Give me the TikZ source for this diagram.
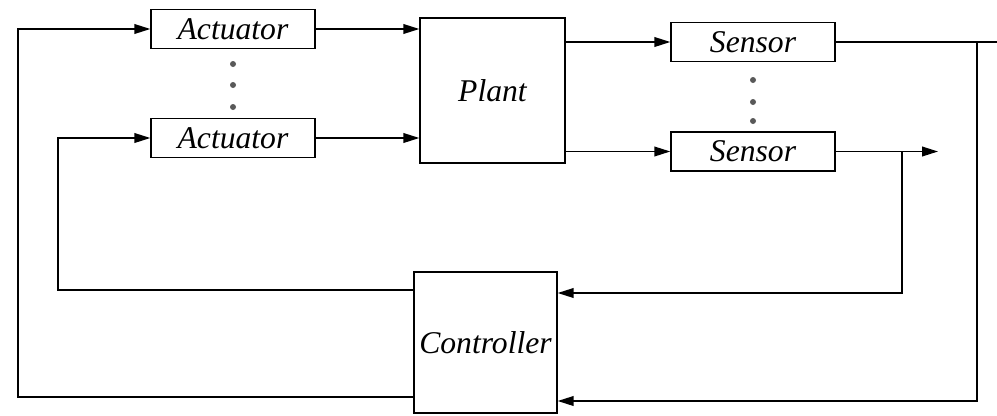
\documentclass[tikz,border=0pt]{standalone}
\usepackage{fontspec}
\setmainfont{Liberation Serif}
\usetikzlibrary{arrows.meta,positioning,calc}

\begin{document}
\begin{tikzpicture}[
    block/.style={draw, line width=0.8pt, inner sep=2pt, font=\fontsize{18}{21}\selectfont\itshape},
    smallblock/.style={block, minimum width=3.28cm, minimum height=0.78cm},
    sig/.style={line width=0.8pt, -{Triangle[length=9pt,width=5.5pt]}},
    wire/.style={line width=0.8pt}]
    \useasboundingbox (0,0) rectangle (19.94,8.3);

    % Actuators
    \node[smallblock] (act1) at (4.66,7.72) {Actuator};
    \node[smallblock] (act2) at (4.66,5.54) {Actuator};
    \foreach \y in {7.02,6.60,6.16}
      \fill[black!65] (4.66,\y) circle (0.06);

    % Plant
    \node[block, minimum width=2.9cm, minimum height=2.9cm] (plant) at (9.85,6.49) {Plant};

    % Sensors
    \node[smallblock] (sen1) at (15.06,7.46) {Sensor};
    \node[smallblock] (sen2) at (15.06,5.27) {Sensor};
    \foreach \y in {6.70,6.26,5.88}
      \fill[black!65] (15.06,\y) circle (0.06);

    % Controller
    \node[block, minimum width=2.86cm, minimum height=2.82cm] (ctrl) at (9.71,1.45) {Controller};

    % free ends and branch points
    \coordinate (out1) at (19.94,7.46);
    \coordinate (out2) at (18.76,5.27);
    \coordinate (br1) at (19.54,7.46);
    \coordinate (br2) at (18.04,5.27);
    \coordinate (lo) at (0.36,0);
    \coordinate (li) at (1.16,0);

    % forward path
    \draw[sig] (act1.east) -- (act1.east -| plant.west);
    \draw[sig] (act2.east) -- (act2.east -| plant.west);
    \draw[sig] (plant.east |- sen1.west) -- (sen1.west);
    \draw[sig] (plant.east |- sen2.west) -- (sen2.west);
    \draw[wire] (sen1.east) -- (out1);
    \draw[sig] (sen2.east) -- (out2);

    % feedback
    \draw[sig] (br2) |- ([yshift=0.99cm]ctrl.east);
    \draw[sig] (br1) |- ([yshift=-1.17cm]ctrl.east);
    \draw[sig] ([yshift=1.05cm]ctrl.west) -| (li |- act2.west) -- (act2.west);
    \draw[sig] ([yshift=-1.09cm]ctrl.west) -| (lo |- act1.west) -- (act1.west);
\end{tikzpicture}
\end{document}
